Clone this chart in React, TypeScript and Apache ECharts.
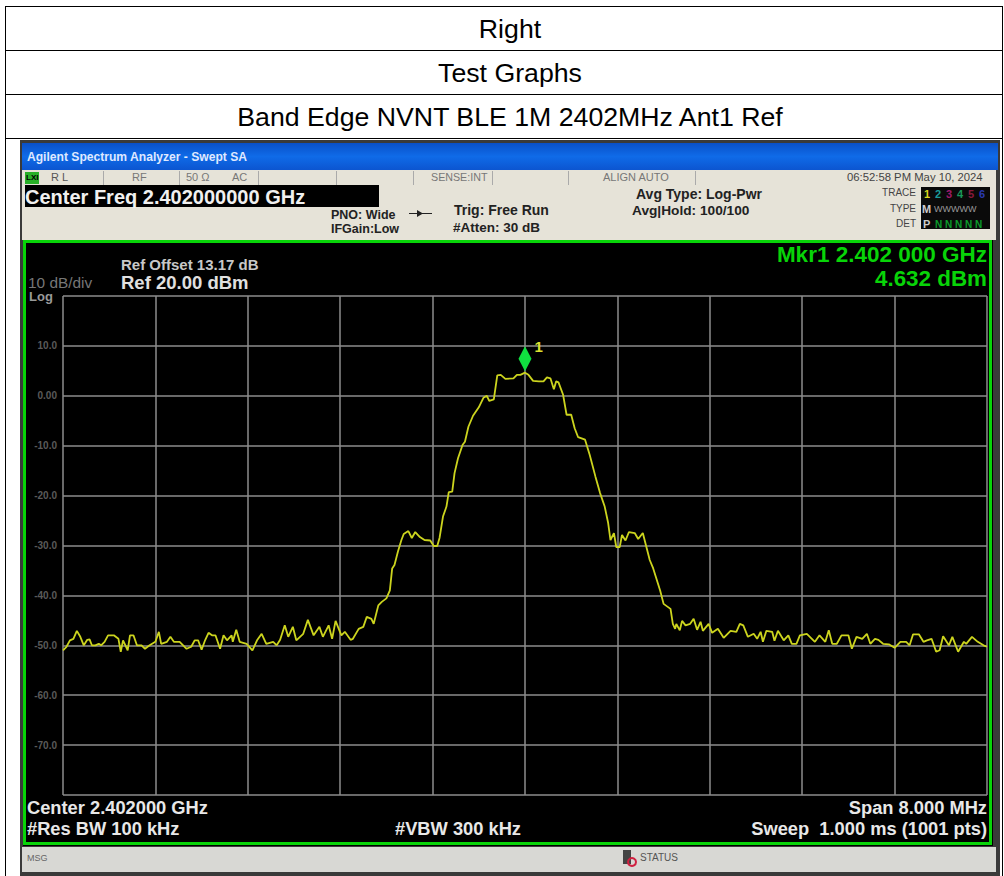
import React, { useEffect, useRef } from "react";
import * as echarts from "echarts";

const centerFreq = 2402;
const freqMHz = [
  2398.00,2398.03,2398.06,2398.09,2398.12,2398.15,2398.18,2398.21,2398.23,2398.25,2398.28,2398.31,2398.33,2398.36,2398.39,2398.44,2398.48,2398.50,2398.52,2398.56,2398.58,2398.61,2398.64,2398.68,2398.71,2398.75,2398.80,2398.83,2398.85,2398.90,2398.93,2398.96,2399.01,2399.07,2399.11,2399.14,2399.17,2399.20,2399.23,2399.26,2399.29,2399.32,2399.36,2399.39,2399.42,2399.46,2399.47,2399.50,2399.53,2399.59,2399.64,2399.68,2399.72,2399.76,2399.82,2399.85,2399.88,2399.92,2399.95,2399.99,2400.02,2400.08,2400.12,2400.17,2400.22,2400.25,2400.30,2400.33,2400.36,2400.41,2400.44,2400.49,2400.51,2400.56,2400.60,2400.63,2400.67,2400.69,2400.73,2400.76,2400.80,2400.83,
  2400.85,2400.87,2400.90,2400.93,2400.95,2400.99,2401.02,2401.05,2401.09,2401.13,2401.18,2401.21,2401.24,2401.26,2401.29,2401.32,2401.34,2401.37,2401.39,2401.42,2401.46,2401.48,2401.51,2401.55,2401.60,2401.64,2401.67,2401.69,2401.73,2401.76,2401.79,2401.83,2401.90,2401.93,2401.96,2402.00,2402.03,2402.07,2402.12,2402.16,2402.19,2402.22,2402.25,2402.27,2402.29,2402.33,2402.36,2402.40,2402.43,2402.46,2402.52,2402.56,2402.61,2402.65,2402.69,2402.72,2402.74,2402.77,2402.79,2402.82,2402.84,2402.87,2402.90,2402.95,2402.98,2403.02,2403.05,2403.08,2403.11,
  2403.17,2403.20,2403.26,2403.28,2403.30,2403.31,2403.34,2403.36,2403.39,2403.43,2403.46,2403.49,2403.52,2403.54,2403.59,2403.62,2403.67,2403.72,2403.78,2403.83,2403.86,2403.89,2403.93,2403.98,2404.01,2404.04,2404.06,2404.09,2404.14,2404.16,2404.19,2404.24,2404.28,2404.31,2404.35,2404.38,2404.44,2404.51,2404.55,2404.60,2404.63,2404.66,2404.70,2404.74,2404.80,2404.83,2404.87,2404.92,2404.96,2404.99,2405.03,2405.06,2405.10,2405.15,2405.20,2405.25,2405.30,2405.33,2405.36,2405.41,2405.45,2405.48,2405.52,2405.56,2405.59,2405.62,2405.67,2405.70,2405.75,2405.80,2405.82,2405.87,2405.92,2405.97,2406.00,
];
const levelDbm = [
  -51.0,-50.3,-49.0,-48.7,-47.1,-48.3,-50.0,-48.9,-48.8,-50.0,-50.0,-49.7,-50.0,-49.3,-48.0,-48.0,-48.7,-51.3,-49.0,-51.0,-48.0,-48.0,-50.0,-50.0,-50.7,-50.0,-49.3,-47.3,-49.7,-49.3,-48.3,-49.3,-49.3,-50.7,-50.3,-49.0,-49.0,-50.9,-49.0,-47.5,-48.0,-48.0,-50.7,-48.0,-49.0,-48.0,-49.3,-46.9,-49.3,-49.7,-51.0,-49.0,-47.7,-49.7,-49.3,-50.0,-48.9,-46.0,-48.3,-46.3,-49.0,-47.7,-44.9,-48.0,-46.3,-48.3,-46.0,-48.7,-45.1,-48.0,-47.3,-48.9,-48.7,-46.7,-46.3,-44.3,-44.7,-45.7,-42.0,-41.3,-40.6,-39.0,
  -34.6,-33.9,-31.2,-28.9,-27.7,-27.1,-28.5,-27.3,-28.3,-28.9,-29.0,-30.1,-30.1,-28.5,-24.2,-22.2,-19.3,-19.2,-15.5,-12.5,-9.8,-9.2,-6.2,-4.0,-2.3,-0.4,0.0,-1.0,-0.7,4.1,4.2,3.4,3.5,4.2,4.2,4.632,4.2,3.0,2.9,2.9,3.7,3.5,1.3,2.9,2.7,0.2,-3.8,-3.8,-6.5,-8.3,-8.8,-11.8,-16.2,-19.5,-22.2,-25.5,-28.9,-27.5,-30.3,-30.3,-27.9,-29.0,-27.3,-27.5,-28.7,-27.5,-30.2,-32.9,-34.6,
  -39.0,-41.7,-42.7,-45.7,-46.7,-45.7,-47.0,-45.1,-46.0,-45.7,-44.7,-46.9,-45.3,-47.1,-45.7,-47.5,-46.7,-48.5,-47.1,-47.3,-45.7,-46.0,-48.3,-47.7,-48.7,-47.3,-49.3,-47.1,-47.3,-49.1,-47.1,-49.0,-48.0,-49.7,-49.7,-48.0,-47.7,-49.3,-48.0,-49.3,-47.0,-49.7,-49.7,-48.0,-48.0,-50.7,-48.3,-48.7,-47.7,-49.7,-48.7,-48.9,-49.7,-49.8,-50.5,-49.3,-49.3,-50.0,-47.8,-47.8,-49.3,-49.0,-48.7,-51.3,-51.0,-48.2,-50.0,-48.3,-51.3,-49.3,-49.7,-48.3,-49.3,-50.0,-50.3,
];
const markerPoint = [0, 7.4];
const levelTickLabels: Record<string, string> = {
  "10": "10.0", "0": "0.00", "-10": "-10.0", "-20": "-20.0", "-30": "-30.0",
  "-40": "-40.0", "-50": "-50.0", "-60": "-60.0", "-70": "-70.0",
};
const tableRows = ["Right", "Test Graphs", "Band Edge NVNT BLE 1M 2402MHz Ant1 Ref"];

const UI = "'Liberation Sans', Arial, sans-serif";
const GREEN = "#08d408";

function txt(x: number, y: number, text: string, size: number, fill: string, opts: any = {}) {
  return {
    type: "text", x, y, z: 10, silent: true,
    style: {
      text, fill, font: `${opts.weight ?? "normal"} ${size}px ${UI}`,
      textAlign: opts.align ?? "left", textVerticalAlign: "middle",
    },
  };
}
function rect(x: number, y: number, w: number, h: number, fill: any, z = -5) {
  return { type: "rect", z, silent: true, shape: { x, y, width: w, height: h }, style: { fill } };
}

export default function App() {
  const ref = useRef<HTMLDivElement>(null);
  useEffect(() => {
    const chart = echarts.init(ref.current!, null, { renderer: "svg" });
    const trace = freqMHz.map((f, i) => [Math.round((f - centerFreq) * 100) / 100, levelDbm[i]]);
    const blue = new echarts.graphic.LinearGradient(0, 0, 0, 1, [
      { offset: 0, color: "#0a50c8" }, { offset: 0.5, color: "#0f6be8" }, { offset: 1, color: "#0c55d0" },
    ]);
    const graphic: any[] = [
      // document table
      rect(5, 6, 998, 1, "#000"), rect(5, 50, 998, 1, "#000"), rect(5, 94, 998, 1, "#000"), rect(5, 138, 998, 1, "#000"),
      rect(5, 6, 1, 870, "#000"), rect(1002, 6, 1, 870, "#000"),
      ...tableRows.map((t, i) => txt(510, 29 + i * 44, t, 26.7, "#000", { align: "center" })),
      // analyzer window
      rect(20, 140, 980, 736, "#3a3a3a", -9),
      rect(22, 143, 976, 27, blue, -8),
      rect(22, 170, 974, 70, "#e6e3d8", -8),
      rect(23, 240, 970, 606, "#000", -8),
      rect(22, 847, 974, 25, "#d8d8d4", -8),
      // green frame
      rect(23, 240, 3, 604, GREEN, 5), rect(989, 240, 3, 604, GREEN, 5),
      rect(23, 240, 969, 3, GREEN, 5), rect(23, 842, 969, 3, GREEN, 5),
      // header row
      txt(27, 157, "Agilent Spectrum Analyzer - Swept SA", 12.1, "#dfe8ff", { weight: "bold" }),
      rect(25, 172, 14, 12, "#28b028", 1),
      txt(26, 177, "LXI", 8, "#000", { weight: "bold" }),
      txt(51, 177, "R L", 11, "#555"),
      txt(132, 177, "RF", 11, "#777"),
      txt(186, 177, "50 Ω", 11, "#777"),
      txt(232, 177, "AC", 11, "#777"),
      txt(431, 177, "SENSE:INT", 10.7, "#777"),
      txt(603, 177, "ALIGN AUTO", 11, "#777"),
      txt(847, 177, "06:52:58 PM May 10, 2024", 11.3, "#444"),
      rect(103, 171, 1, 14, "#aaa", 1), rect(179, 171, 1, 14, "#aaa", 1), rect(258, 171, 1, 14, "#aaa", 1),
      rect(336, 171, 1, 14, "#aaa", 1), rect(413, 171, 1, 14, "#aaa", 1), rect(492, 171, 1, 14, "#aaa", 1),
      rect(568, 171, 1, 14, "#aaa", 1), rect(695, 171, 1, 14, "#aaa", 1),
      rect(25, 185, 354, 22, "#000", 1),
      txt(25, 197, "Center Freq 2.402000000 GHz", 20, "#f0f0f0", { weight: "bold" }),
      txt(331, 215, "PNO: Wide", 12.5, "#222", { weight: "bold" }),
      txt(331, 229, "IFGain:Low", 12.5, "#222", { weight: "bold" }),
      rect(409, 213, 23, 1, "#222", 1),
      { type: "polygon", z: 2, silent: true, shape: { points: [[417, 210], [423, 213.5], [417, 217]] }, style: { fill: "#222" } },
      txt(454, 210, "Trig: Free Run", 14, "#222", { weight: "bold" }),
      txt(453, 227, "#Atten: 30 dB", 13.5, "#222", { weight: "bold" }),
      txt(636, 194, "Avg Type: Log-Pwr", 14, "#222", { weight: "bold" }),
      txt(632, 210, "Avg|Hold: 100/100", 13.7, "#222", { weight: "bold" }),
      txt(916, 192, "TRACE", 10, "#444", { align: "right" }),
      txt(916, 208, "TYPE", 10, "#444", { align: "right" }),
      txt(916, 223, "DET", 10, "#444", { align: "right" }),
      rect(921, 187, 69, 42, "#0a0a0a", 1),
      txt(924, 194, "1", 11, "#d8d820", { weight: "bold" }),
      txt(935, 194, "2", 11, "#1a9a9a", { weight: "bold" }),
      txt(946, 194, "3", 11, "#a01a6a", { weight: "bold" }),
      txt(957, 194, "4", 11, "#1a9a5a", { weight: "bold" }),
      txt(968, 194, "5", 11, "#8a1a3a", { weight: "bold" }),
      txt(979, 194, "6", 11, "#2a3ab0", { weight: "bold" }),
      txt(922, 209, "M", 11, "#ccc", { weight: "bold" }),
      txt(934, 209, "WWWWW", 9, "#999"),
      txt(923, 224, "P", 11, "#ccc", { weight: "bold" }),
      txt(935, 224, "N N N N N", 10, "#0a9a2a", { weight: "bold" }),
      // screen annotations
      txt(121, 264, "Ref Offset 13.17 dB", 15, "#c8c8c8", { weight: "bold" }),
      txt(121, 282, "Ref 20.00 dBm", 18.5, "#e0e0e0", { weight: "bold" }),
      txt(28, 282, "10 dB/div", 15.4, "#777"),
      txt(29, 296, "Log", 13, "#999", { weight: "bold" }),
      txt(987, 254, "Mkr1 2.402 000 GHz", 22.5, GREEN, { weight: "bold", align: "right" }),
      txt(987, 278, "4.632 dBm", 22.4, GREEN, { weight: "bold", align: "right" }),
      txt(27, 807, "Center 2.402000 GHz", 18.3, "#e8e8e8", { weight: "bold" }),
      txt(27, 828, "#Res BW 100 kHz", 18.3, "#e8e8e8", { weight: "bold" }),
      txt(395, 828, "#VBW 300 kHz", 18.3, "#e8e8e8", { weight: "bold" }),
      txt(987, 807, "Span 8.000 MHz", 18.3, "#e8e8e8", { weight: "bold", align: "right" }),
      txt(987, 828, "Sweep  1.000 ms (1001 pts)", 18.3, "#e8e8e8", { weight: "bold", align: "right" }),
      txt(27, 858, "MSG", 9, "#666"),
      rect(623, 850, 8, 14, "#444", 1),
      { type: "circle", z: 2, silent: true, shape: { cx: 632, cy: 862, r: 4 }, style: { fill: "none", stroke: "#d02040", lineWidth: 2 } },
      txt(640, 857, "STATUS", 10, "#555"),
    ];
    chart.setOption({
      animation: false,
      backgroundColor: "#fff",
      graphic,
      grid: { left: 63, top: 296, width: 924, height: 499, containLabel: false },
      xAxis: {
        type: "value", min: -4, max: 4, interval: 0.8,
        axisLine: { show: false }, axisTick: { show: false }, axisLabel: { show: false },
        splitLine: { show: true, lineStyle: { color: "#8c8c8c", width: 1.5 } },
      },
      yAxis: {
        type: "value", min: -80, max: 20, interval: 10,
        axisLine: { show: false }, axisTick: { show: false },
        axisLabel: {
          color: "#5a5a5a", fontSize: 10, fontFamily: UI, fontWeight: "bold", margin: 6,
          formatter: (v: number) => levelTickLabels[String(v)] ?? "",
        },
        splitLine: { show: true, lineStyle: { color: "#8c8c8c", width: 1.5 } },
      },
      series: [
        {
          type: "line", data: trace, showSymbol: false, smooth: false, silent: true,
          lineStyle: { color: "#ccd41e", width: 1.8 }, z: 3,
        },
        {
          type: "scatter", data: [markerPoint], symbol: "diamond", symbolSize: [13, 25], silent: true, z: 4,
          itemStyle: { color: "#10e040", opacity: 1 },
          label: {
            show: true, formatter: "1", position: "right", distance: 3, offset: [0, -12],
            color: "#dce030", fontSize: 15, fontWeight: "bold", fontFamily: UI, opacity: 1,
          },
        },
      ],
    });
    return () => chart.dispose();
  }, []);
  return <div ref={ref} style={{ position: "absolute", left: 0, top: 0, width: 1004, height: 876 }} />;
}
